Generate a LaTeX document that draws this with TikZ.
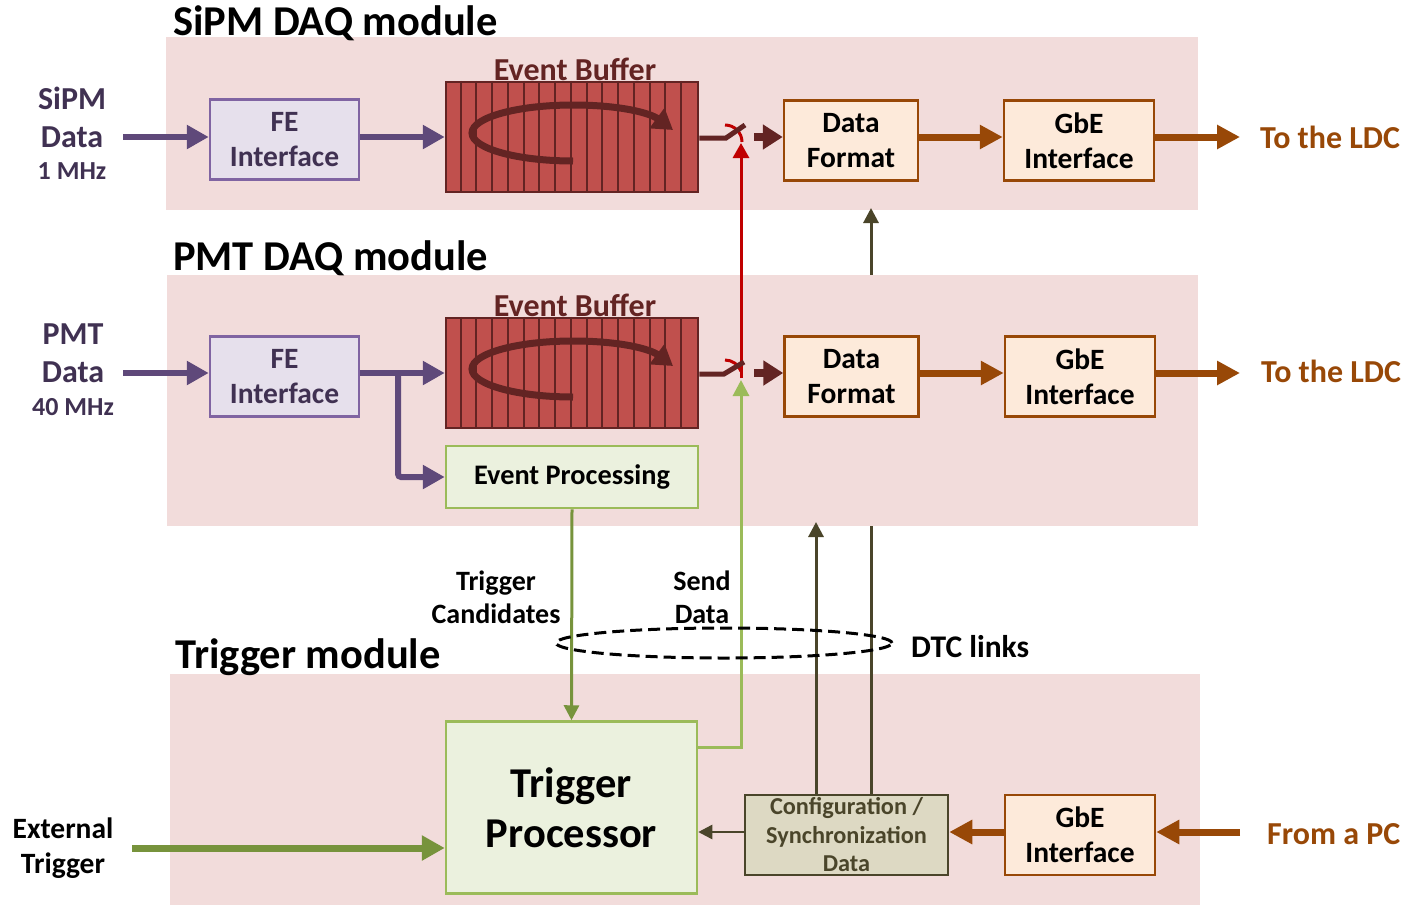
\documentclass[tikz,border=0pt]{standalone}
\usepackage{fontspec}
\setmainfont{Carlito}
\usetikzlibrary{arrows.meta,calc,shapes.geometric}
\definecolor{bgpink}{HTML}{F2DCDB}
\definecolor{purp}{HTML}{5F497A}
\definecolor{purpfill}{HTML}{E6E0EC}
\definecolor{purpbord}{HTML}{8064A2}
\definecolor{purptext}{HTML}{403152}
\definecolor{buffill}{HTML}{C0504D}
\definecolor{bufdark}{HTML}{632423}
\definecolor{orng}{HTML}{984807}
\definecolor{orngfill}{HTML}{FDEADA}
\definecolor{grnfill}{HTML}{EBF1DE}
\definecolor{grnlight}{HTML}{9BBB59}
\definecolor{grndark}{HTML}{77933C}
\definecolor{olfill}{HTML}{DDD9C3}
\definecolor{oldark}{HTML}{4A452A}
\definecolor{redln}{HTML}{C00000}
\newcommand\myfs[2]{\fontsize{#1}{#2}\selectfont}
\tikzset{
  every node/.style={font=\bfseries},
  febox/.style={draw=purpbord, fill=purpfill, line width=2.5pt, text=purptext, minimum width=149pt, minimum height=80pt, inner sep=0pt, align=center, font=\bfseries\myfs{29.5}{35}},
  bufbox/.style={draw=bufdark, fill=buffill, line width=2.5pt, minimum width=252pt, minimum height=110pt, inner sep=0pt},
  orbox/.style={draw=orng, fill=orngfill, line width=2.5pt, minimum width=150pt, minimum height=80pt, inner sep=0pt, align=center, font=\bfseries\myfs{29.5}{35}},
  grbox/.style={draw=grnlight, fill=grnfill, line width=2.5pt, inner sep=0pt, align=center},
  purparrow/.style={draw=purp, line width=6pt, -{Triangle[length=22pt,width=23pt]}},
  orarrow/.style={draw=orng, line width=7pt, -{Triangle[length=23pt,width=23pt]}},
  dkarrow/.style={draw=bufdark, line width=8pt, -{Triangle[length=20pt,width=24pt]}},
  swline/.style={draw=bufdark, line width=5pt},
  lbl/.style={align=center, font=\bfseries\myfs{29.5}{35}},
  title/.style={anchor=base west, inner sep=0pt, font=\bfseries\myfs{42.5}{42.5}},
  looparrow/.style={draw=bufdark, line width=7pt, -{Triangle[length=20pt,width=24pt]}},
  eblbl/.style={text=bufdark, anchor=base, inner sep=0pt, font=\bfseries\myfs{32}{32}},
}
\begin{document}
\begin{tikzpicture}[x=1pt,y=-1pt]
\useasboundingbox (0,0) rectangle (1408,905);
% backgrounds
\fill[bgpink] (166,37) rectangle (1198,210);
\fill[bgpink] (170,674) rectangle (1200,905);
% line hidden behind PMT module
\coordinate (c871top) at (871,208);
\coordinate (c871bot) at (871,795);
\draw[oldark, line width=3pt, -{Triangle[length=15pt,width=15pt]}] (c871bot) -- (c871top);
\fill[bgpink] (167,275) rectangle (1198,526);

% titles
\node[title] (t1) at (173,35) {SiPM DAQ module};
\node[title] (t2) at (173,270) {PMT DAQ module};
\node[title] (t3) at (175,668) {Trigger module};

% ---------- SiPM row ----------
\node[lbl, text=purptext, font=\bfseries\myfs{32}{38}] (sipm) at (72,117) {SiPM\\Data};
\node[text=purptext, font=\bfseries\myfs{26}{30}] (sipmf) at (72,171) {1 MHz};
\node[febox] (fe1) at (284.5,139.5) {FE\\Interface};
\node[bufbox] (buf1) at (572,137) {};
\foreach \i in {1,...,15} \draw[bufdark, line width=2pt] ($(buf1.north west)+(\i*15.75,0)$) -- ($(buf1.south west)+(\i*15.75,0)$);
\node[eblbl] (eb1) at (575,80) {Event Buffer};
\draw[looparrow] (573,161) .. controls (517,161) and (472,148.5) .. (472,133) .. controls (472,117.5) and (517,105) .. (573,105) .. controls (620,105) and (650,113) .. (673,130);
\node[orbox, minimum width=134pt] (df1) at (851,140.5) {Data\\Format};
\node[orbox] (gbe1) at (1079,140.5) {GbE\\Interface};
\node[text=orng, font=\bfseries\myfs{32}{32}, anchor=west, inner sep=0pt] (ldc1) at (1260,137) {To the LDC};
\coordinate (sin1) at (123,137);
\coordinate (sout1) at (1240,137);
\draw[purparrow] (sin1) -- (fe1.west |- sin1);
\draw[purparrow] (fe1.east |- sin1) -- (buf1.west |- sin1);
\coordinate (sw1a) at (726,138);
\coordinate (sw1b) at (745,125);
\coordinate (da1) at (754,137);
\draw[dkarrow] (da1) -- (df1.west |- da1);
\draw[orarrow] (df1.east |- sin1) -- (gbe1.west |- sin1);
\draw[orarrow] (gbe1.east |- sin1) -- (sout1);

% ---------- PMT row ----------
\node[lbl, text=purptext, font=\bfseries\myfs{32}{38}] (pmt) at (73,353) {PMT\\Data};
\node[text=purptext, font=\bfseries\myfs{26}{30}] (pmtf) at (73,407) {40 MHz};
\node[febox] (fe2) at (284.5,376.5) {FE\\Interface};
\node[bufbox] (buf2) at (572,373) {};
\foreach \i in {1,...,15} \draw[bufdark, line width=2pt] ($(buf2.north west)+(\i*15.75,0)$) -- ($(buf2.south west)+(\i*15.75,0)$);
\node[eblbl] (eb2) at (575,316) {Event Buffer};
\draw[looparrow] (573,397) .. controls (517,397) and (472,384.5) .. (472,369) .. controls (472,353.5) and (517,341) .. (573,341) .. controls (620,341) and (650,349) .. (673,366);
\node[orbox, minimum width=134pt] (df2) at (851.5,376.5) {Data\\Format};
\node[orbox] (gbe2) at (1080,376.5) {GbE\\Interface};
\node[text=orng, font=\bfseries\myfs{32}{32}, anchor=west, inner sep=0pt] (ldc2) at (1261,371) {To the LDC};
\node[grbox, minimum width=252pt, minimum height=62pt, font=\bfseries\myfs{28.3}{33}] (ep) at (572,477) {Event Processing};
\coordinate (sin2) at (123,373);
\coordinate (sout2) at (1240,373);
\coordinate (br) at (398,373);
\draw[purparrow] (sin2) -- (fe2.west |- sin2);
\draw[purparrow] (fe2.east |- sin2) -- (buf2.west |- sin2);
\draw[purparrow, rounded corners=3pt] (br) -- (br |- ep.west) -- (ep.west);
\coordinate (da2) at (754,373);
\draw[dkarrow] (da2) -- (df2.west |- da2);
\draw[orarrow] (df2.east |- sin2) -- (gbe2.west |- sin2);
\draw[orarrow] (gbe2.east |- sin2) -- (sout2);

% ---------- Trigger module ----------
\node[grbox, minimum width=251pt, minimum height=172pt, font=\bfseries\myfs{42.5}{50}] (tp) at (571.5,807.5) {Trigger\\Processor};
\node[draw=oldark, fill=olfill, line width=2.5pt, minimum width=203pt, minimum height=80pt, inner sep=0pt, align=center, text=oldark, font=\bfseries\myfs{24.3}{28.5}] (cfg) at (846.5,835) {Configuration /\\Synchronization\\Data};
\node[orbox] (gbe3) at (1080,835) {GbE\\Interface};
\node[text=orng, font=\bfseries\myfs{32}{32}, anchor=west, inner sep=0pt] (pc) at (1267,834) {From a PC};
\node[lbl] (ext) at (63,848) {External\\Trigger};
\coordinate (ein) at (132,848);
\draw[draw=grndark, line width=7pt, -{Triangle[length=23pt,width=24pt]}] (ein) -- (tp.west |- ein);
\coordinate (pcin) at (1240,832);
\draw[orarrow] (pcin) -- (gbe3.east |- pcin);
\draw[orarrow] (gbe3.west |- pcin) -- (cfg.east |- pcin);
\draw[oldark, line width=2.5pt, -{Triangle[length=14pt,width=14pt]}] (cfg.west |- pcin) -- (tp.east |- pcin);
\coordinate (c816top) at (816,522);
\coordinate (c816bot) at (816,795);
\draw[oldark, line width=3pt, -{Triangle[length=15pt,width=15pt]}] (c816bot) -- (c816top);

% trigger candidates
\draw[grndark, line width=3pt, -{Triangle[length=15pt,width=15pt]}] (ep.south) -- (tp.north);
\node[lbl, font=\bfseries\myfs{28}{33}] (tc) at (496,597) {Trigger\\Candidates};
\node[lbl, font=\bfseries\myfs{28}{33}] (sd) at (702,597) {Send\\Data};

% red line and switches
\coordinate (rlbot) at (741,378);
\coordinate (rltop) at (741,143);
\draw[redln, line width=3pt, -{Triangle[length=15pt,width=16pt]}] (rlbot) -- (rltop);
\draw[redln, line width=3pt] (725,125) arc[start angle=-90, end angle=0, radius=17];
\draw[redln, line width=3pt] (725,360) arc[start angle=-90, end angle=-20, radius=17];
\draw[swline] (buf1.east |- sw1a) -- (sw1a) -- (sw1b);
\coordinate (sw2a) at (724,374);
\coordinate (sw2b) at (744,362);
\draw[swline] (buf2.east |- sw2a) -- (sw2a) -- (sw2b);

% send data
\coordinate (sdc) at (741,747);
\coordinate (sdtop) at (741,380);
\draw[grnlight, line width=3pt, -{Triangle[length=16pt,width=16pt]}] (tp.east |- sdc) -- (sdc) -- (sdtop);

% dashed ellipse
\node[draw=black, line width=3pt, dash pattern=on 12pt off 6pt, ellipse, minimum width=336pt, minimum height=30pt, inner sep=0pt] (dtcell) at (724,643) {};
\node[font=\bfseries\myfs{31.5}{31.5}, anchor=west, inner sep=0pt] (dtc) at (911,647) {DTC links};
\end{tikzpicture}
\end{document}
